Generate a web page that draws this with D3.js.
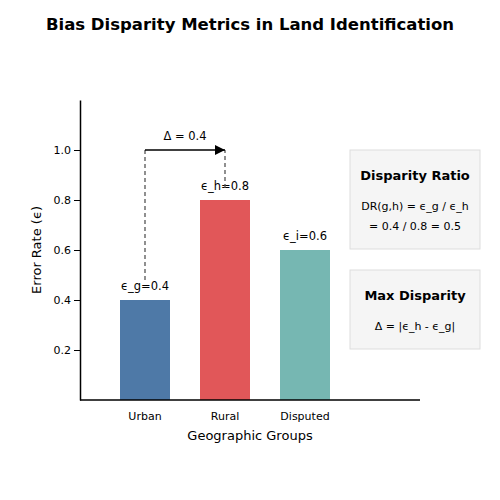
<!DOCTYPE html>
<html><head><meta charset="utf-8">
<script src="https://cdn.jsdelivr.net/npm/d3@7"></script>
<style>body{margin:0;background:#fff}text{font-family:"DejaVu Sans",sans-serif}</style>
</head><body>
<div id="chart"></div>
<script>
const groups = ["Urban", "Rural", "Disputed"];
const errorRates = [0.4, 0.8, 0.6];
const barLabels = ["ϵ_g=0.4", "ϵ_h=0.8", "ϵ_i=0.6"];
const barColors = ["#4e79a7", "#e15759", "#76b7b2"];
const yTicks = [0.2, 0.4, 0.6, 0.8, 1.0];

const svg = d3.select("#chart").append("svg").attr("width", 500).attr("height", 500);

const x = d3.scaleLinear().domain([-0.8125, 3.4375]).range([80, 420]);
const y = d3.scaleLinear().domain([0, 1.2]).range([400, 100]);
const barW = x(0.625) - x(0);

svg.append("text").attr("x", 250).attr("y", 30).attr("text-anchor", "middle")
    .attr("font-size", "16.5px").attr("font-weight", "bold")
    .text("Bias Disparity Metrics in Land Identification");

svg.selectAll("rect.bar").data(errorRates).enter().append("rect")
    .attr("class", "bar")
    .attr("x", (d, i) => x(i) - barW / 2)
    .attr("y", d => y(d))
    .attr("width", barW)
    .attr("height", d => y(0) - y(d))
    .attr("fill", (d, i) => barColors[i]);

svg.selectAll("text.lab").data(errorRates).enter().append("text")
    .attr("x", (d, i) => x(i)).attr("y", d => y(d) - 10)
    .attr("text-anchor", "middle").attr("font-size", "11.5px")
    .text((d, i) => barLabels[i]);

// axes
const yAxis = svg.append("g").attr("transform", "translate(80,0)")
    .call(d3.axisLeft(y).tickValues(yTicks).tickFormat(d3.format(".1f")).tickSizeOuter(0));
yAxis.select(".domain").attr("stroke-width", 1.5);
yAxis.selectAll("text").attr("font-size", "11px").attr("font-family", "DejaVu Sans");
svg.append("line").attr("x1", 80).attr("x2", 420).attr("y1", 400).attr("y2", 400)
    .attr("stroke", "#000").attr("stroke-width", 1.5);
svg.selectAll("text.xt").data(groups).enter().append("text")
    .attr("x", (d, i) => x(i)).attr("y", 420).attr("text-anchor", "middle")
    .attr("font-size", "11px").text(d => d);

svg.append("text").attr("x", 250).attr("y", 440).attr("text-anchor", "middle")
    .attr("font-size", "13px").text("Geographic Groups");
svg.append("text").attr("transform", "translate(41,250) rotate(-90)")
    .attr("text-anchor", "middle").attr("font-size", "13px").text("Error Rate (ϵ)");

// disparity annotation
svg.append("line").attr("x1", x(0)).attr("x2", x(0)).attr("y1", y(errorRates[0]) - 20).attr("y2", y(1.0))
    .attr("stroke", "#555").attr("stroke-dasharray", "4,3").attr("stroke-width", 1.3);
svg.append("line").attr("x1", x(1)).attr("x2", x(1)).attr("y1", y(errorRates[1]) - 12).attr("y2", y(1.0))
    .attr("stroke", "#555").attr("stroke-dasharray", "4,3").attr("stroke-width", 1.3);
svg.append("defs").append("marker").attr("id", "ah").attr("viewBox", "0 0 10 10")
    .attr("refX", 10).attr("refY", 5).attr("markerWidth", 10).attr("markerHeight", 10)
    .attr("markerUnits", "userSpaceOnUse").attr("orient", "auto")
    .append("path").attr("d", "M0,0L10,5L0,10z").attr("fill", "#000");
svg.append("line").attr("x1", x(0)).attr("x2", x(1)).attr("y1", y(1.0)).attr("y2", y(1.0))
    .attr("stroke", "#000").attr("stroke-width", 1.5).attr("marker-end", "url(#ah)");
svg.append("text").attr("x", (x(0) + x(1)) / 2).attr("y", y(1.0) - 10).attr("text-anchor", "middle")
    .attr("font-size", "11.5px").text("Δ = 0.4");

// info boxes
function box(y0, h, title, lines, titleY, lineY) {
    svg.append("rect").attr("x", 350).attr("y", y0).attr("width", 130).attr("height", h)
        .attr("fill", "#f5f5f5").attr("stroke", "#ddd");
    svg.append("text").attr("x", 415).attr("y", y0 + titleY).attr("text-anchor", "middle")
        .attr("font-size", "13px").attr("font-weight", "bold").text(title);
    lines.forEach((l, i) => svg.append("text").attr("x", 415).attr("y", y0 + lineY + i * 20)
        .attr("text-anchor", "middle").attr("font-size", "11px").text(l));
}
box(150, 99, "Disparity Ratio", ["DR(g,h) = ϵ_g / ϵ_h", "= 0.4 / 0.8 = 0.5"], 30, 60);
box(270, 79, "Max Disparity", ["Δ = |ϵ_h - ϵ_g|"], 30, 60);
</script>
</body></html>
